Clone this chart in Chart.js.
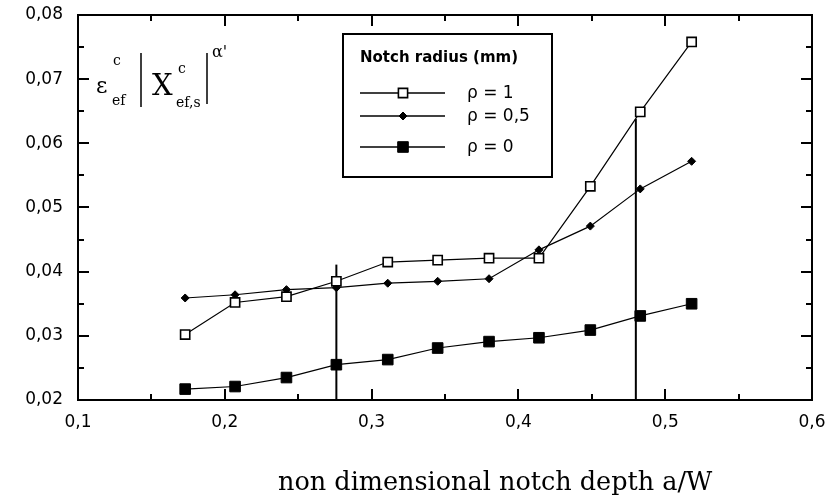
<!DOCTYPE html>
<html>
<head>
<meta charset="utf-8">
<script src="https://cdn.jsdelivr.net/npm/chart.js@4.4.0/dist/chart.umd.min.js"></script>
<style>
  html, body { margin: 0; padding: 0; background: #fff; }
  canvas { display: block; }
</style>
</head>
<body>
<canvas id="chart" width="830" height="495"></canvas>
<script>
// a/W values (same for all three notch radii)
const depths = [0.173, 0.207, 0.242, 0.276, 0.311, 0.345, 0.380, 0.414, 0.449, 0.483, 0.518];
const rho1  = [0.0302, 0.0352, 0.0361, 0.0385, 0.0415, 0.0418, 0.0421, 0.0421, 0.0533, 0.0649, 0.0758];
const rho05 = [0.0359, 0.0364, 0.0372, 0.0375, 0.0382, 0.0385, 0.0389, 0.0434, 0.0471, 0.0529, 0.0572];
const rho0  = [0.0217, 0.0221, 0.0235, 0.0255, 0.0263, 0.0281, 0.0291, 0.0297, 0.0309, 0.0331, 0.0350];
const seriesLabels = ["ρ = 1", "ρ = 0,5", "ρ = 0"];
const legendTitle = "Notch radius (mm)";
const xTitle = "non dimensional notch depth a/W";

// the two vertical marker lines
const markerX = [0.276, 0.480];
const markerTop = [0.0411, 0.0638];

const toPoints = (ys) => ys.map((y, i) => ({ x: depths[i], y: y }));

const seriesStyles = [
    { pointStyle: "rect", radius: 6.5, fill: "#fff", border: 1.6 },
    { pointStyle: "rectRot", radius: 4, fill: "#000", border: 1 },
    { pointStyle: "rect", radius: 7.5, fill: "#000", border: 1 }
];

const datasets = [rho1, rho05, rho0].map((ys, k) => ({
    label: seriesLabels[k],
    data: toPoints(ys),
    showLine: true,
    borderColor: "#000",
    borderWidth: 1.2,
    pointStyle: seriesStyles[k].pointStyle,
    pointRadius: seriesStyles[k].radius,
    pointBackgroundColor: seriesStyles[k].fill,
    pointBorderColor: "#000",
    pointBorderWidth: seriesStyles[k].border
}));

markerX.forEach((x, i) => {
    datasets.push({
        label: "marker" + i,
        data: [{ x: x, y: 0.02 }, { x: x, y: markerTop[i] }],
        showLine: true,
        borderColor: "#000",
        borderWidth: 2,
        pointRadius: 0
    });
});

// frame, inward ticks, legend box, y label and x title
const decorations = {
    id: "decorations",
    afterDatasetsDraw(chart) {
        const ctx = chart.ctx;
        const a = chart.chartArea;
        const xs = chart.scales.x, ys = chart.scales.y;
        ctx.save();
        ctx.strokeStyle = "#000";
        ctx.fillStyle = "#000";

        // ticks every 0.05 on x, every 0.005 on y
        ctx.lineWidth = 2;
        for (let i = 0; i <= 10; i++) {
            const px = Math.round(xs.getPixelForValue(0.1 + i * 0.05));
            const len = i % 2 === 0 ? 11 : 6;
            ctx.beginPath();
            ctx.moveTo(px, a.bottom); ctx.lineTo(px, a.bottom - len);
            ctx.moveTo(px, a.top); ctx.lineTo(px, a.top + len);
            ctx.stroke();
        }
        for (let i = 0; i <= 12; i++) {
            const py = Math.round(ys.getPixelForValue(0.02 + i * 0.005));
            const len = i % 2 === 0 ? 11 : 6;
            ctx.beginPath();
            ctx.moveTo(a.left, py); ctx.lineTo(a.left + len, py);
            ctx.moveTo(a.right, py); ctx.lineTo(a.right - len, py);
            ctx.stroke();
        }
        ctx.strokeRect(a.left, a.top, a.right - a.left, a.bottom - a.top);

        // legend box
        const lx = 343, ly = 34, lw = 209, lh = 143;
        ctx.fillStyle = "#fff";
        ctx.fillRect(lx, ly, lw, lh);
        ctx.fillStyle = "#000";
        ctx.lineWidth = 2;
        ctx.strokeRect(lx, ly, lw, lh);
        ctx.font = 'bold 15px "DejaVu Sans"';
        ctx.textAlign = "left";
        ctx.textBaseline = "alphabetic";
        ctx.fillText(legendTitle, 360, 62);

        const rowY = [93, 116, 147];
        ctx.font = '17px "DejaVu Sans"';
        ctx.textBaseline = "middle";
        seriesLabels.forEach((lab, k) => {
            const st = seriesStyles[k];
            ctx.lineWidth = 1.6;
            ctx.strokeStyle = "#000";
            ctx.beginPath();
            ctx.moveTo(360, rowY[k]); ctx.lineTo(445, rowY[k]);
            ctx.stroke();
            ctx.fillStyle = st.fill;
            ctx.lineWidth = st.border;
            Chart.helpers.drawPoint(ctx, { pointStyle: st.pointStyle, radius: st.radius, borderWidth: st.border }, 403, rowY[k]);
            ctx.fillStyle = "#000";
            ctx.fillText(lab, 467, rowY[k] + 1);
        });

        // y quantity label inside the plot
        ctx.textBaseline = "alphabetic";
        ctx.font = '22px "DejaVu Serif"';
        ctx.fillText("ε", 96, 93);
        ctx.font = '14px "DejaVu Serif"';
        ctx.fillText("c", 113, 65);
        ctx.fillText("ef", 112, 105);
        ctx.font = '29px "DejaVu Serif"';
        ctx.fillText("X", 152, 95);
        ctx.font = '14px "DejaVu Serif"';
        ctx.fillText("c", 178, 73);
        ctx.fillText("ef,s", 176, 107);
        ctx.font = '16px "DejaVu Serif"';
        ctx.fillText("α'", 212, 57);
        ctx.lineWidth = 1.5;
        ctx.beginPath();
        ctx.moveTo(141, 53); ctx.lineTo(141, 107);
        ctx.moveTo(207, 53); ctx.lineTo(207, 104);
        ctx.stroke();

        // x axis title
        ctx.font = '25.5px "DejaVu Serif"';
        ctx.textAlign = "left";
        ctx.fillText(xTitle, 278, 490);
        ctx.restore();
    }
};

function noEdgePadding(s) {
    s.paddingTop = 0;
    s.paddingBottom = 0;
    s.paddingLeft = 0;
    s.paddingRight = 0;
}

new Chart(document.getElementById("chart").getContext("2d"), {
    type: "scatter",
    data: { datasets: datasets },
    options: {
        responsive: false,
        animation: false,
        devicePixelRatio: 1,
        layout: { autoPadding: false, padding: { top: 15, right: 18, left: 0, bottom: 0 } },
        plugins: {
            legend: { display: false },
            tooltip: { enabled: false }
        },
        scales: {
            x: {
                type: "linear",
                min: 0.1,
                max: 0.6,
                grid: { display: false, drawTicks: false },
                border: { display: false },
                ticks: {
                    stepSize: 0.1,
                    padding: 12,
                    color: "#000",
                    font: { family: "DejaVu Sans", size: 17 },
                    callback: (v) => v.toFixed(1).replace(".", ",")
                },
                afterFit: (s) => { s.height = 95; noEdgePadding(s); }
            },
            y: {
                type: "linear",
                min: 0.02,
                max: 0.08,
                grid: { display: false, drawTicks: false },
                border: { display: false },
                ticks: {
                    stepSize: 0.01,
                    padding: 15,
                    color: "#000",
                    font: { family: "DejaVu Sans", size: 17 },
                    callback: (v) => v.toFixed(2).replace(".", ",")
                },
                afterFit: (s) => { s.width = 78; noEdgePadding(s); }
            }
        }
    },
    plugins: [decorations]
});
</script>
</body>
</html>
